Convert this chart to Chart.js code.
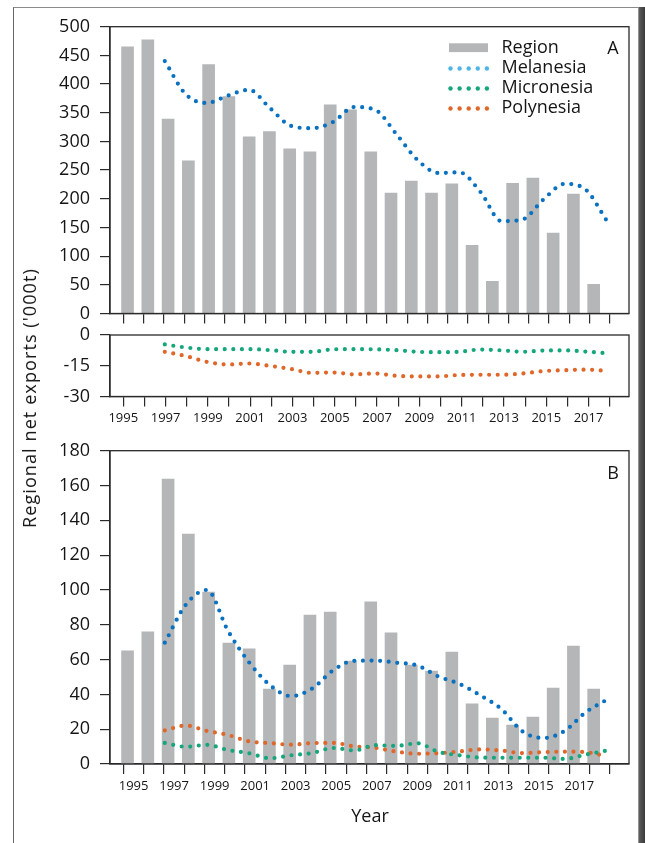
<!DOCTYPE html>
<html>
<head>
<meta charset="utf-8">
<script src="https://cdn.jsdelivr.net/npm/chart.js@4.4.1/dist/chart.umd.min.js"></script>
<style>
html,body{margin:0;padding:0;background:#fff;}
body{width:645px;height:843px;position:relative;overflow:hidden;font-family:"Open Sans",sans-serif;color:#151515;}
.frame{position:absolute;left:13px;top:7px;width:626px;height:900px;border-left:1.5px solid #666;border-top:1.2px solid #8a8a8a;box-sizing:border-box;}
.shadow{position:absolute;left:638px;top:7px;width:7px;height:900px;background:linear-gradient(to right,#b0b0b0 0,#5a5a5a 1.5px,#3a3a3a 100%);}
canvas{position:absolute;left:0;top:0;}
.ylab{position:absolute;left:29px;top:398px;transform:translate(-50%,-50%) rotate(-90deg);white-space:nowrap;font-size:18px;letter-spacing:1.1px;}
.xlab{position:absolute;left:370px;top:815px;transform:translate(-50%,-50%);font-size:18px;}
.pl{position:absolute;transform:translate(-50%,-50%);font-size:18px;}
</style>
</head>
<body>
<div class="frame"></div>
<div class="shadow"></div>
<canvas id="cA1" width="645" height="843"></canvas>
<canvas id="cA2" width="645" height="843"></canvas>
<canvas id="cB" width="645" height="843"></canvas>
<div class="ylab">Regional net exports ('000t)</div>
<div class="xlab">Year</div>
<div class="pl" style="left:613px;top:47px;">A</div>
<div class="pl" style="left:613px;top:472px;">B</div>
<script>
// ---------- data ----------
const years = [1995,1996,1997,1998,1999,2000,2001,2002,2003,2004,2005,2006,2007,2008,2009,2010,2011,2012,2013,2014,2015,2016,2017,2018];
const lineYears = [1997,1998,1999,2000,2001,2002,2003,2004,2005,2006,2007,2008,2009,2010,2011,2012,2013,2014,2015,2016,2017,2018];
const seriesNames = ['Region','Melanesia','Micronesia','Polynesia'];

// Panel A (top, positive)
const regionA = [465,477,339,266,434,378,308,317,287,282,364,355,282,210,231,210,226,119,56,227,236,140,208,51];
const melanesiaA = [440,382,367,380,390,358,327,323,334,360,355,313,268,245,246,212,161,164,199,226,216,162];
// Panel A (bottom, negative)
const micronesiaA = [-4.6,-6.1,-6.9,-6.9,-6.9,-7.4,-8.2,-8.2,-7.0,-6.9,-7.0,-7.4,-8.2,-8.4,-8.2,-7.1,-7.5,-8.2,-7.6,-7.5,-8.1,-8.9];
const polynesiaA = [-8.2,-10.3,-13.1,-14.4,-13.9,-15.1,-16.6,-18.5,-18.3,-19.2,-18.8,-19.9,-20.2,-20.2,-19.5,-19.4,-19.4,-18.8,-17.6,-17.2,-16.9,-17.5];
// Panel B
const regionB = [65,76,163.7,132.1,98.8,69.5,66.1,43.1,56.9,85.6,87.3,59.2,93.1,75.3,56.9,53.4,64.3,34.5,26.4,22.4,27.0,43.6,67.8,43.1];
const melanesiaB = [69.7,91.5,100,76.6,58.5,45.3,39.0,43.3,53.8,59.3,59.4,58.2,56.6,50.3,46.0,39.4,31.5,18.7,14.9,19.0,29.7,36.9];
const micronesiaB = [12.1,9.9,11.0,8.0,6.2,3.3,5.0,6.3,9.2,7.8,10.8,10.4,11.9,7.0,5.0,3.7,3.6,3.6,3.6,2.9,5.4,7.7];
const polynesiaB = [19.3,22.1,19.0,16.7,13.0,12.0,11.1,12.0,12.1,10.1,9.3,7.1,5.9,6.2,7.2,8.4,7.7,6.3,6.8,7.1,6.8,4.4];

// tick values
const ticksA1 = [0,50,100,150,200,250,300,350,400,450,500];
const ticksA2 = [-30,-15,0];
const ticksB = [0,20,40,60,80,100,120,140,160,180];

// ---------- style ----------
Chart.defaults.font.family = "'Open Sans', sans-serif";
Chart.defaults.color = '#151515';
const CH = 843;
const AX = '#2a2a2a';
const BAR = '#b4b6b7', MEL = '#0a70c0', MEL_LEG = '#4fb4e6', MIC = '#16a67c', POL = '#e0672a';
const X_MIN = 1994.371, X_MAX = 2018.913;
const LX_MIN = 1994.396, LX_MAX = 2019.06;

function zeroPad(s){ s.paddingLeft = 0; s.paddingRight = 0; s.paddingTop = 0; s.paddingBottom = 0; }

function xAxis(bottom, showLabels){
  return {
    type:'linear', position:'bottom', min:X_MIN, max:X_MAX,
    afterBuildTicks: s => { s.ticks = years.map(v => ({value:v})); },
    afterFit: s => { s.height = CH - bottom; zeroPad(s); },
    ticks:{display:showLabels, autoSkip:false, maxRotation:0, minRotation:0, padding:4,
      font:{size:13}, color:'#151515',
      callback: v => (v % 2 === 1 ? String(v) : '')},
    grid:{drawOnChartArea:false, drawTicks:true, tickLength:10, color:AX, lineWidth:1.2},
    border:{display:true, color:AX, width:1.3}
  };
}
function yAxis(min, max, tickVals){
  return {
    type:'linear', position:'left', min:min, max:max,
    afterBuildTicks: s => { s.ticks = tickVals.map(v => ({value:v})); },
    afterFit: s => { s.width = 110; zeroPad(s); },
    ticks:{padding:10, font:{size:18}, color:'#151515', callback: v => String(v)},
    grid:{drawOnChartArea:false, drawTicks:true, tickLength:10, color:AX, lineWidth:1.2},
    border:{display:true, color:AX, width:1.3}
  };
}
const lineAxis = {type:'linear', display:false, min:LX_MIN, max:LX_MAX};

function barSet(label, vals){
  return {type:'bar', label, xAxisID:'x', yAxisID:'y', order:2,
    data: years.map((yr,i) => ({x:yr, y:vals[i]})),
    backgroundColor:BAR, borderWidth:0, barThickness:12};
}
function dotSet(label, vals, color){
  return {type:'line', label, xAxisID:'xl', yAxisID:'y', order:1,
    data: lineYears.map((yr,i) => ({x:yr, y:vals[i]})),
    borderColor:color, borderWidth:4.2, borderDash:[0,8.6], borderCapStyle:'round', borderJoinStyle:'round',
    pointRadius:0, cubicInterpolationMode:'monotone', fill:false};
}

const framePlugin = {
  id:'frame',
  afterDatasetsDraw(chart){
    const a = chart.chartArea, c = chart.ctx;
    c.save(); c.strokeStyle = AX; c.lineWidth = 1.3;
    c.strokeRect(a.left, a.top, a.right - a.left, a.bottom - a.top);
    c.restore();
  }
};

const legendPlugin = {
  id:'customLegend',
  afterDraw(chart){
    const c = chart.ctx;
    const colors = [BAR, MEL_LEG, MIC, POL];
    const rowY = [47.5, 67.5, 87.5, 107.5];
    c.save();
    c.font = "18px 'Open Sans', sans-serif";
    c.fillStyle = '#151515'; c.textBaseline = 'middle'; c.textAlign = 'left';
    seriesNames.forEach((name, i) => {
      const y = rowY[i];
      if (i === 0) {
        c.fillStyle = colors[0]; c.fillRect(449, y - 4.2, 39, 8.8);
      } else {
        c.fillStyle = colors[i];
        for (let k = 0; k < 5; k++) { c.beginPath(); c.arc(450.5 + k * 9.1, y + 1, 2.2, 0, Math.PI * 2); c.fill(); }
      }
      c.fillStyle = '#151515';
      c.fillText(name, 501.5, y);
    });
    c.restore();
  }
};

function makeChart(id, top, bottom, showLabels, yMin, yMax, tickVals, datasets, plugins){
  return new Chart(document.getElementById(id), {
    data:{datasets},
    options:{
      responsive:false, animation:false, devicePixelRatio:1,
      layout:{padding:{top:top, left:0, right:16, bottom:0}},
      plugins:{legend:{display:false}, tooltip:{enabled:false}},
      scales:{x:xAxis(bottom, showLabels), xl:lineAxis, y:yAxis(yMin, yMax, tickVals)}
    },
    plugins
  });
}

makeChart('cA1', 26.7, 313.5, false, 0, 500, ticksA1,
  [barSet(seriesNames[0], regionA), dotSet(seriesNames[1], melanesiaA, MEL)], [framePlugin, legendPlugin]);
makeChart('cA2', 335, 396.5, true, -30, 0, ticksA2,
  [dotSet(seriesNames[2], micronesiaA, MIC), dotSet(seriesNames[3], polynesiaA, POL)], [framePlugin]);
makeChart('cB', 450.7, 764, true, 0, 180, ticksB,
  [barSet(seriesNames[0], regionB), dotSet(seriesNames[1], melanesiaB, MEL),
   dotSet(seriesNames[2], micronesiaB, MIC), dotSet(seriesNames[3], polynesiaB, POL)], [framePlugin]);
</script>
</body>
</html>
